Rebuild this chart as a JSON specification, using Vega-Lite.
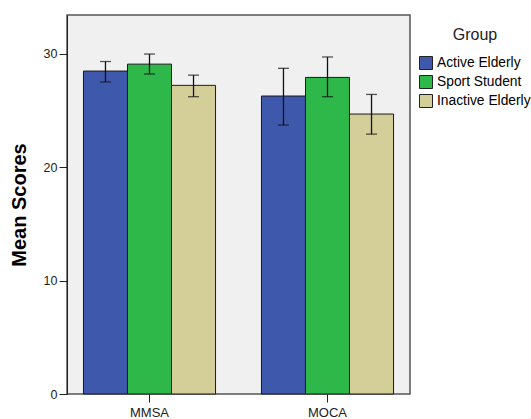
{
  "$schema": "https://vega.github.io/schema/vega-lite/v6.json",
  "autosize": "none",
  "padding": {"left": 67, "top": 15, "right": 121, "bottom": 25},
  "width": 343,
  "height": 379,
  "config": {
    "font": "Liberation Sans",
    "view": {"fill": "#f0f0f0", "stroke": "#555555", "strokeWidth": 1.5}
  },
  "data": {
    "values": [
      {"test": "MMSA", "group": "Active Elderly", "mean": 28.46, "lo": 27.5, "hi": 29.3},
      {"test": "MMSA", "group": "Sport Student", "mean": 29.07, "lo": 28.2, "hi": 29.96},
      {"test": "MMSA", "group": "Inactive Elderly", "mean": 27.2, "lo": 26.2, "hi": 28.1},
      {"test": "MOCA", "group": "Active Elderly", "mean": 26.26, "lo": 23.7, "hi": 28.7},
      {"test": "MOCA", "group": "Sport Student", "mean": 27.9, "lo": 26.2, "hi": 29.7},
      {"test": "MOCA", "group": "Inactive Elderly", "mean": 24.67, "lo": 22.9, "hi": 26.4}
    ]
  },
  "encoding": {
    "x": {
      "field": "test", "type": "nominal",
      "scale": {"paddingInner": 0.258, "paddingOuter": 0.0925},
      "axis": {"title": null, "labelAngle": 0, "labelFontSize": 13, "labelColor": "#222", "tickColor": "#222", "tickSize": 8, "domain": false, "labelPadding": 4}
    },
    "xOffset": {"field": "group", "type": "nominal", "sort": ["Active Elderly", "Sport Student", "Inactive Elderly"], "scale": {"paddingInner": 0, "paddingOuter": 0}}
  },
  "layer": [
    {
      "mark": {"type": "bar", "stroke": "#1a1a1a", "strokeWidth": 1},
      "encoding": {
        "y": {
          "field": "mean", "type": "quantitative",
          "scale": {"domain": [0, 33.4], "nice": false},
          "axis": {"title": "Mean Scores", "titleFontSize": 20, "titleFontWeight": "bold", "titleColor": "#000", "values": [0, 10, 20, 30], "grid": false, "labelFontSize": 12.5, "labelColor": "#222", "tickColor": "#222", "tickSize": 8, "labelPadding": 2, "domainColor": "#222", "titlePadding": 14}
        },
        "color": {
          "field": "group", "type": "nominal",
          "sort": ["Active Elderly", "Sport Student", "Inactive Elderly"],
          "scale": {"domain": ["Active Elderly", "Sport Student", "Inactive Elderly"], "range": ["#3e58ac", "#2fb84a", "#d4cf98"]},
          "legend": {
            "title": "Group", "orient": "none", "legendX": 352, "legendY": 12,
            "titleFontSize": 16, "titleFontWeight": "normal", "titleColor": "#222",
            "titleAnchor": "middle", "titlePadding": 13,
            "labelFontSize": 13.8, "labelColor": "#000", "labelOffset": 4,
            "symbolType": "square", "symbolSize": 169, "symbolStrokeColor": "#222", "symbolStrokeWidth": 1, "symbolOpacity": 1,
            "rowPadding": 1
          }
        }
      }
    },
    {
      "mark": {"type": "rule", "color": "#111", "strokeWidth": 1.3},
      "encoding": {"y": {"field": "lo", "type": "quantitative"}, "y2": {"field": "hi"}}
    },
    {
      "mark": {"type": "tick", "color": "#111", "thickness": 1.3, "size": 11},
      "encoding": {"y": {"field": "lo", "type": "quantitative"}}
    },
    {
      "mark": {"type": "tick", "color": "#111", "thickness": 1.3, "size": 11},
      "encoding": {"y": {"field": "hi", "type": "quantitative"}}
    }
  ]
}
